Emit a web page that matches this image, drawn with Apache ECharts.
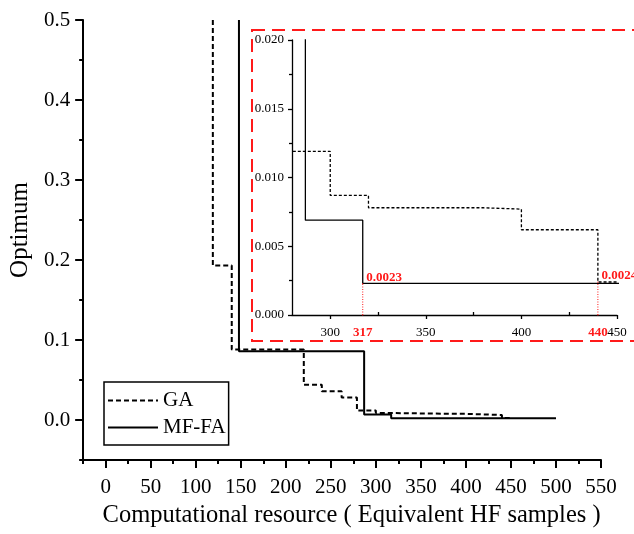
<!DOCTYPE html>
<html>
<head>
<meta charset="utf-8">
<script src="https://cdn.jsdelivr.net/npm/echarts@6/dist/echarts.min.js"></script>
<style>
html, body { margin: 0; padding: 0; background: #fff; }
#chart1 { width: 634px; height: 534px; }
</style>
</head>
<body>
<div id="chart1"></div>
<script>
// step curves: value holds from each x until the next x
var gaX = [119, 119, 140, 220, 240, 262, 279, 300, 320, 380, 400, 440, 450];
var gaY = [0.5, 0.193, 0.088, 0.044, 0.036, 0.028, 0.0119, 0.0087, 0.0078, 0.0077, 0.0062, 0.0024, 0.0024];
var mfX = [148, 148, 287, 317, 500];
var mfY = [0.5, 0.086, 0.0069, 0.0023, 0.0023];

var mainXTicks = [0, 50, 100, 150, 200, 250, 300, 350, 400, 450, 500, 550];
var mainXMinor = [-25, 25, 75, 125, 175, 225, 275, 325, 375, 425, 475, 525];
var mainYTicks = [0, 0.1, 0.2, 0.3, 0.4, 0.5];
var mainYMinor = [-0.05, 0.05, 0.15, 0.25, 0.35, 0.45];

var zoomXTicks = [300, 350, 400, 450];
var zoomXMinor = [325, 375, 425];
var zoomYTicks = [0, 0.005, 0.01, 0.015, 0.02];
var zoomYMinor = [0.0025, 0.0075, 0.0125, 0.0175];

// red markers in the inset
var markX = [317, 440];
var markY = [0.0023, 0.0024];

var serif = 'Liberation Serif';
var red = '#ff1a1a';

function pairs(xs, ys) {
    var out = [];
    for (var i = 0; i < xs.length; i++) out.push([xs[i], ys[i]]);
    return out;
}

var chart1 = echarts.init(document.getElementById('chart1'));

function majorAxis(grid, min, max, ticks, labels, opts) {
    return Object.assign({
        type: 'value', gridIndex: grid, min: min, max: max,
        splitLine: { show: false },
        axisLine: { show: true, onZero: false, lineStyle: { color: '#000', width: 2 } },
        axisTick: { show: true, inside: false, length: 8, customValues: ticks, lineStyle: { color: '#000', width: 2 } },
        axisLabel: { customValues: labels, color: '#000', fontFamily: serif, fontSize: 21 }
    }, opts || {});
}

function minorAxis(grid, min, max, ticks, pos, len, inside, w) {
    return {
        type: 'value', gridIndex: grid, min: min, max: max, position: pos,
        splitLine: { show: false },
        axisLine: { show: false, onZero: false },
        axisTick: { show: true, inside: inside, length: len, customValues: ticks, lineStyle: { color: '#000', width: w } },
        axisLabel: { show: false }
    };
}

// minor axis of the inset also carries the red 317 / 440 labels
var zoomMinorX = minorAxis(1, 280, 450, zoomXMinor, 'bottom', 3, true, 1.3);
zoomMinorX.axisLabel = {
    show: true, inside: false, customValues: markX, margin: 11,
    showMinLabel: true, showMaxLabel: true,
    color: red, fontFamily: serif, fontSize: 13, fontWeight: 'bold'
};

var markSeries = markX.map(function (x, i) {
    return {
        name: 'mark' + i, type: 'line', xAxisIndex: 2, yAxisIndex: 2,
        symbol: 'circle', symbolSize: 1, showSymbol: true, silent: true,
        lineStyle: { color: red, width: 1, type: [1, 1.5] },
        itemStyle: { color: red },
        data: [[x, 0], {
            value: [x, markY[i]],
            label: {
                show: true, position: [4, -12], formatter: markY[i].toFixed(4),
                color: red, fontFamily: serif, fontWeight: 'bold', fontSize: 13
            }
        }]
    };
});

var option = {
    animation: false,
    backgroundColor: '#fff',
    grid: [
        { left: 81, right: 33, top: 20, bottom: 74 },
        { left: 292, right: 17, top: 40, bottom: 219 }
    ],
    legend: {
        data: ['GA', 'MF-FA'],
        orient: 'vertical',
        left: 104, top: 382,
        padding: [8, 3, 7, 3],
        itemWidth: 50, itemHeight: 20, itemGap: 6,
        borderColor: '#000', borderWidth: 1.5,
        itemStyle: { opacity: 0 },
        textStyle: { color: '#000', fontFamily: serif, fontSize: 21 }
    },
    xAxis: [
        majorAxis(0, -25, 550, mainXTicks, mainXTicks, {
            position: 'bottom',
            name: 'Computational resource ( Equivalent HF samples )',
            nameLocation: 'middle', nameGap: 40,
            nameTextStyle: { color: '#000', fontFamily: serif, fontSize: 24.5, padding: [0, 0, 0, 19] },
            axisLabel: { customValues: mainXTicks, color: '#000', fontFamily: serif, fontSize: 21, margin: 17 }
        }),
        minorAxis(0, -25, 550, mainXMinor, 'bottom', 4, false, 2),
        majorAxis(1, 280, 450, zoomXTicks, zoomXTicks, {
            position: 'bottom',
            axisLine: { show: true, onZero: false, lineStyle: { color: '#000', width: 1.3 } },
            axisTick: { show: true, length: 4, customValues: zoomXTicks, lineStyle: { color: '#000', width: 1.3 } },
            axisLabel: {
                customValues: zoomXTicks, margin: 11, showMaxLabel: true,
                color: '#000', fontFamily: serif, fontSize: 13
            }
        }),
        zoomMinorX
    ],
    yAxis: [
        majorAxis(0, -0.05, 0.5, mainYTicks, mainYTicks, {
            position: 'left',
            name: 'Optimum', nameLocation: 'middle', nameGap: 48,
            nameTextStyle: { color: '#000', fontFamily: serif, fontSize: 25, padding: [0, 0, 0, 20] },
            axisLabel: {
                customValues: mainYTicks, color: '#000', fontFamily: serif, fontSize: 21, margin: 13,
                formatter: function (v) { return v.toFixed(1); }
            }
        }),
        minorAxis(0, -0.05, 0.5, mainYMinor, 'left', 4, false, 2),
        majorAxis(1, 0, 0.02, zoomYTicks, zoomYTicks, {
            position: 'left',
            axisLine: { show: true, onZero: false, lineStyle: { color: '#000', width: 1.3 } },
            axisTick: { show: true, length: 4, customValues: zoomYTicks, lineStyle: { color: '#000', width: 1.3 } },
            axisLabel: {
                customValues: zoomYTicks, color: '#000', fontFamily: serif, fontSize: 13, margin: 8,
                formatter: function (v) { return v.toFixed(3); }
            }
        }),
        minorAxis(1, 0, 0.02, zoomYMinor, 'left', 3, false, 1.3)
    ],
    graphic: [{
        type: 'rect', silent: true, z: -1,
        shape: { x: 252, y: 30, width: 420, height: 311 },
        style: { fill: 'none', stroke: red, lineWidth: 2, lineDash: [13, 7] }
    }],
    series: [
        {
            name: 'GA', type: 'line', step: 'end', symbol: 'none', xAxisIndex: 0, yAxisIndex: 0,
            lineStyle: { color: '#000', width: 2, type: [5, 3] },
            itemStyle: { color: '#000' },
            data: pairs(gaX, gaY)
        },
        {
            name: 'MF-FA', type: 'line', step: 'end', symbol: 'none', xAxisIndex: 0, yAxisIndex: 0,
            lineStyle: { color: '#000', width: 2 },
            itemStyle: { color: '#000' },
            data: pairs(mfX, mfY)
        },
        {
            name: 'GA zoom', type: 'line', step: 'end', symbol: 'none', xAxisIndex: 2, yAxisIndex: 2,
            lineStyle: { color: '#000', width: 1.3, type: [3, 2] },
            data: pairs(gaX, gaY)
        },
        {
            name: 'MF-FA zoom', type: 'line', step: 'end', symbol: 'none', xAxisIndex: 2, yAxisIndex: 2,
            lineStyle: { color: '#000', width: 1.3 },
            data: pairs(mfX, mfY)
        }
    ].concat(markSeries)
};
chart1.setOption(option, true);
</script>
</body>
</html>
